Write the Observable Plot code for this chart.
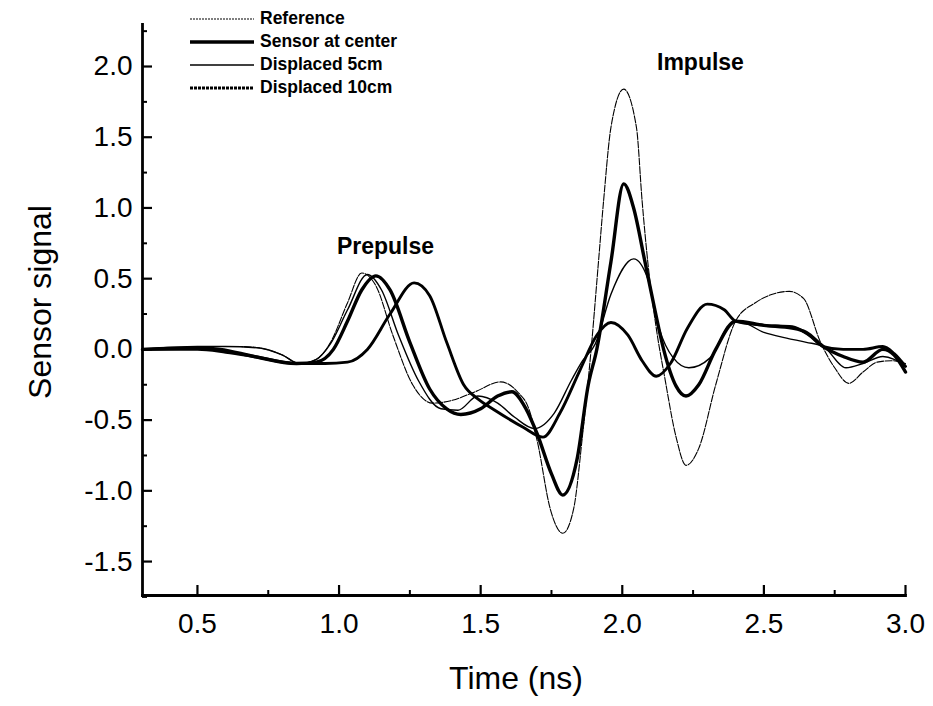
<!DOCTYPE html>
<html>
<head>
<meta charset="utf-8">
<script src="https://cdn.jsdelivr.net/npm/d3@7"></script>
<script src="https://cdn.jsdelivr.net/npm/@observablehq/plot@0.6"></script>
<style>
  html, body { margin: 0; padding: 0; background: #fff; }
  #wrap { position: relative; width: 933px; height: 706px; }
  #legend { position: absolute; left: 190px; top: 7px; font-family: "Liberation Sans", Arial, sans-serif; font-weight: bold; font-size: 17.5px; color: #000; }
  .row { display: flex; align-items: center; height: 23px; }
  .row svg { margin-right: 6px; }
</style>
</head>
<body>
<div id="wrap"><div id="legend"></div></div>
<script>
// ---- data ----
const seriesNames = ["Reference", "Sensor at center", "Displaced 5cm", "Displaced 10cm"];

const refT = [0.306,0.45,0.55,0.65,0.72,0.80,0.86,0.92,0.97,1.03,1.08,1.13,1.19,1.26,1.33,1.40,1.48,1.57,1.63,1.67,1.70,1.746,1.79,1.828,1.86,1.89,1.916,1.934,1.96,2.005,2.05,2.07,2.09,2.12,2.15,2.19,2.225,2.27,2.33,2.40,2.47,2.53,2.59,2.64,2.70,2.75,2.80,2.85,2.90,2.95,3.0];
const refY = [0,0.01,0.02,0.02,0.01,-0.04,-0.1,-0.07,0.05,0.33,0.54,0.45,0.1,-0.25,-0.38,-0.36,-0.3,-0.23,-0.3,-0.42,-0.65,-1.13,-1.30,-1.13,-0.6,0,0.62,1.05,1.57,1.84,1.57,1.05,0.62,0.15,-0.2,-0.62,-0.82,-0.7,-0.25,0.2,0.33,0.39,0.41,0.36,0.05,-0.13,-0.24,-0.16,-0.09,-0.08,-0.1];

const centerT = [0.306,0.5,0.58,0.7,0.85,0.92,0.98,1.03,1.08,1.13,1.18,1.25,1.32,1.38,1.43,1.50,1.56,1.61,1.66,1.70,1.75,1.79,1.84,1.88,1.91,1.96,2.005,2.04,2.08,2.115,2.146,2.19,2.225,2.27,2.33,2.40,2.5,2.6,2.65,2.71,2.78,2.85,2.92,2.96,3.0];
const centerY = [0,0.01,0,-0.05,-0.1,-0.09,0.0,0.2,0.42,0.52,0.42,0.05,-0.28,-0.42,-0.46,-0.42,-0.33,-0.30,-0.42,-0.60,-0.88,-1.03,-0.78,-0.25,0.0,0.62,1.17,1.0,0.62,0.28,0.0,-0.26,-0.33,-0.25,0.0,0.2,0.17,0.15,0.12,0.02,-0.05,-0.09,0.0,-0.04,-0.16];

const d5T = [0.306,0.5,0.6,0.72,0.80,0.86,0.92,0.97,1.03,1.10,1.15,1.21,1.28,1.36,1.42,1.49,1.56,1.62,1.69,1.76,1.82,1.86,1.905,1.96,2.04,2.09,2.13,2.18,2.235,2.31,2.37,2.41,2.5,2.58,2.65,2.71,2.79,2.85,2.92,2.96,3.0];
const d5Y = [0,0.02,0.02,0.01,-0.04,-0.1,-0.07,0.04,0.28,0.53,0.42,0.1,-0.22,-0.42,-0.43,-0.33,-0.38,-0.48,-0.56,-0.45,-0.22,-0.08,0.04,0.39,0.64,0.5,0.15,-0.06,-0.13,-0.06,0.15,0.2,0.12,0.08,0.05,0.02,-0.13,-0.1,-0.05,-0.07,-0.12];

const d10T = [0.306,0.5,0.6,0.7,0.85,0.95,1.03,1.1,1.18,1.265,1.32,1.38,1.44,1.49,1.55,1.65,1.72,1.78,1.85,1.91,1.96,2.02,2.07,2.12,2.17,2.23,2.30,2.36,2.40,2.5,2.6,2.66,2.71,2.78,2.85,2.92,2.96,3.0];
const d10Y = [0,0,-0.02,-0.05,-0.1,-0.1,-0.09,0.0,0.25,0.47,0.38,0.05,-0.25,-0.35,-0.43,-0.55,-0.62,-0.45,-0.15,0.1,0.19,0.1,-0.08,-0.19,-0.1,0.15,0.32,0.28,0.2,0.17,0.16,0.1,0.02,0.0,0.0,0.02,-0.03,-0.12];

const yTickValues = [-1.5,-1.0,-0.5,0.0,0.5,1.0,1.5,2.0];
const yMinorValues = [-1.75,-1.25,-0.75,-0.25,0.25,0.75,1.25,1.75,2.25];
const xTickValues = [0.5,1.0,1.5,2.0,2.5,3.0];
const xMinorValues = [0.75,1.25,1.75,2.25,2.75];
const annotations = [{t: 1.164, v: 0.728, label: "Prepulse"}, {t: 2.276, v: 2.03, label: "Impulse"}];

// ---- styles ----
const styles = {
  "Reference": {w: 1.1, dash: "7,1.5"},
  "Sensor at center": {w: 3.4, dash: null},
  "Displaced 5cm": {w: 1.4, dash: null},
  "Displaced 10cm": {w: 2.9, dash: null}
};

const pairs = [[refT, refY], [centerT, centerY], [d5T, d5Y], [d10T, d10Y]];
const rows = seriesNames.map((name, i) => pairs[i][0].map((t, j) => ({series: name, t, v: pairs[i][1][j]})));

const font = "'Liberation Sans', Arial, sans-serif";
const fmt = d => d.toFixed(1);

const W = 933, H = 706, mL = 142, mR = 28, mT = 24, mB = 111;
const frameW = W - mL - mR, frameH = H - mT - mB;

const chart = Plot.plot({
  width: W,
  height: H,
  marginLeft: mL,
  marginRight: mR,
  marginTop: mT,
  marginBottom: mB,
  x: {domain: [0.306, 3.0]},
  y: {domain: [-1.74, 2.297]},
  style: {fontFamily: font, background: "transparent", color: "#000"},
  marks: [
    // tick labels
    Plot.axisY({ticks: yTickValues, tickSize: 0, tickPadding: 10, tickFormat: fmt, fontSize: 28, label: null}),
    Plot.axisX({ticks: xTickValues, tickSize: 0, tickPadding: 18, tickFormat: fmt, fontSize: 28, label: null}),
    // inward ticks (major and minor)
    Plot.tickY(yTickValues, {y: d => d, insetRight: frameW - 10, strokeWidth: 2.2}),
    Plot.tickY(yMinorValues, {y: d => d, insetRight: frameW - 5, strokeWidth: 2}),
    Plot.tickX(xTickValues, {x: d => d, insetTop: frameH - 10, strokeWidth: 2.2}),
    Plot.tickX(xMinorValues, {x: d => d, insetTop: frameH - 5, strokeWidth: 2}),
    Plot.frame({anchor: "left", strokeWidth: 2.8}),
    Plot.frame({anchor: "bottom", strokeWidth: 2.8}),
    ...rows.map((data, i) => {
      const s = styles[seriesNames[i]];
      return Plot.line(data, {x: "t", y: "v", stroke: "#000", strokeWidth: s.w, strokeDasharray: s.dash, curve: "monotone-x"});
    }),
    Plot.text(annotations, {x: "t", y: "v", text: "label", fontSize: 23, fontFamily: font, fontWeight: "bold"}),
    Plot.text(["Sensor signal"], {frameAnchor: "left", textAnchor: "middle", lineAnchor: "middle", dx: -102, dy: -8, rotate: -90, fontSize: 32, fontFamily: font}),
    Plot.text(["Time (ns)"], {frameAnchor: "bottom", textAnchor: "middle", lineAnchor: "middle", dx: -8, dy: 83, fontSize: 32, fontFamily: font})
  ]
});

document.getElementById("wrap").prepend(chart);
chart.style.position = "absolute";
chart.style.left = "0";
chart.style.top = "0";

// legend
const legend = document.getElementById("legend");
seriesNames.forEach(name => {
  const s = styles[name];
  const row = document.createElement("div");
  row.className = "row";
  const lw = name === "Reference" ? 1.2 : s.w;
  const dash = name === "Reference" ? "2,1" : (name === "Displaced 10cm" ? "3,1" : "none");
  row.innerHTML = `<svg width="64" height="10"><line x1="0" x2="64" y1="5" y2="5" stroke="#000" stroke-width="${lw}" stroke-dasharray="${dash}"/></svg><span>${name}</span>`;
  legend.appendChild(row);
});
</script>
</body>
</html>
